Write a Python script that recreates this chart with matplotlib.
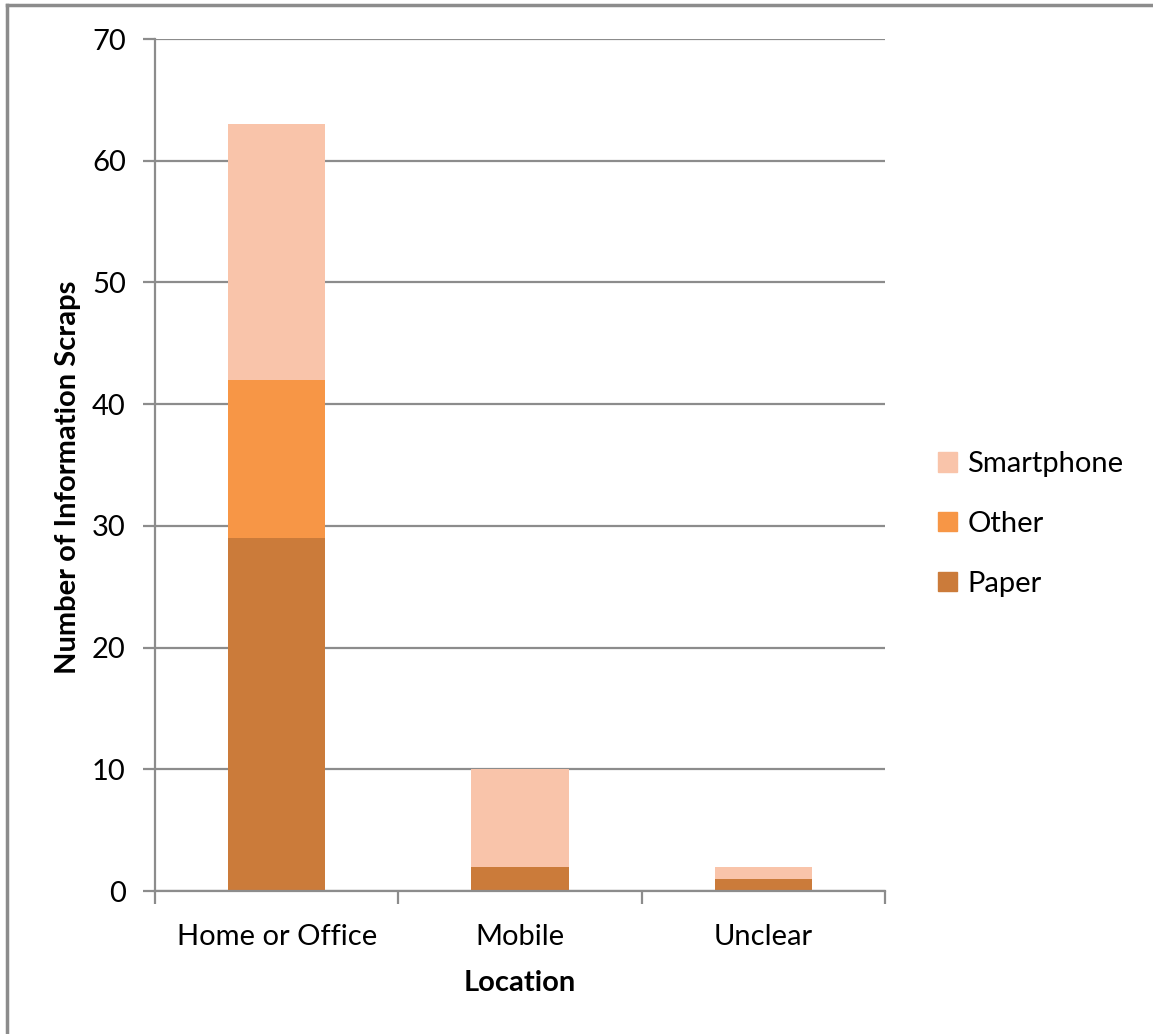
import matplotlib.pyplot as plt
import numpy as np
from matplotlib.patches import Patch
from matplotlib.lines import Line2D

plt.rcParams['font.family'] = ['Lato', 'DejaVu Sans']

locations = ['Home or Office', 'Mobile', 'Unclear']
paper = [29, 2, 1]
other = [13, 0, 0]
smartphone = [21, 8, 1]

c_paper = '#CB7B3A'
c_other = '#F79646'
c_smart = '#F9C4AA'
grey = '#8C8C8C'
fs = 21

fig = plt.figure(figsize=(11.53, 10.34), dpi=100)
ax = fig.add_axes([155/1153, 1-891/1034, 730/1153, 852/1034])

x = np.arange(len(locations))
p = np.array(paper)
o = np.array(other)
s = np.array(smartphone)
ax.bar(x, p, width=0.4, color=c_paper, zorder=3)
ax.bar(x, o, width=0.4, bottom=p, color=c_other, zorder=3)
ax.bar(x, s, width=0.4, bottom=p+o, color=c_smart, zorder=3)

ax.set_xlim(-0.5, 2.5)
ax.set_ylim(0, 70)
ax.set_yticks(np.arange(0, 71, 10))
ax.grid(axis='y', color=grey, lw=1.6, zorder=0)
for sp in ['top', 'right']:
    ax.spines[sp].set_visible(False)
ax.spines['left'].set_color(grey)
ax.spines['bottom'].set_color(grey)
ax.spines['left'].set_linewidth(1.6)
ax.spines['bottom'].set_linewidth(1.6)
ax.spines['bottom'].set_zorder(4)

ax.set_xticks([-0.5, 0.5, 1.5, 2.5])
ax.set_xticklabels([])
ax.set_xticks(x, minor=True)
ax.set_xticklabels(locations, minor=True, fontsize=fs)
ax.tick_params(axis='x', which='major', direction='out', length=9, width=1.6, color=grey)
ax.tick_params(axis='x', which='minor', length=0, pad=24)
ax.tick_params(axis='y', direction='out', length=9, width=1.6, color=grey, labelsize=fs, pad=12)

ax.set_xlabel('Location', fontsize=fs, fontweight='bold', labelpad=14)
ax.set_ylabel('Number of Information Scraps', fontsize=fs, fontweight='bold')
ax.yaxis.set_label_coords(-0.101, 0.485)

handles = [Patch(color=c_smart, label='Smartphone'),
           Patch(color=c_other, label='Other'),
           Patch(color=c_paper, label='Paper')]
fig.legend(handles=handles, loc='center left', bbox_to_anchor=(912/1153, 1-524/1034),
           frameon=False, fontsize=fs, handlelength=0.65, handleheight=0.65,
           handletextpad=0.35, labelspacing=1.15)

# figure frame
fig.add_artist(Line2D([7/1153, 7/1153], [0, 1-5/1034], color=grey, lw=2.5))
fig.add_artist(Line2D([7/1153, 1], [1-5/1034, 1-5/1034], color=grey, lw=2.5))

fig.savefig('out.png', dpi=100)
